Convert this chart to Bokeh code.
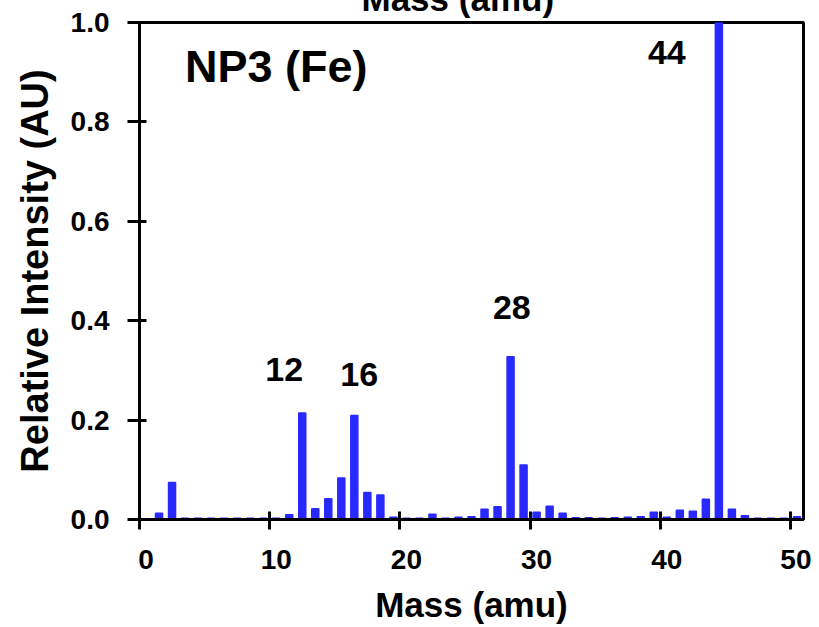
from bokeh.plotting import figure
from bokeh.models import (Range1d, FixedTicker, Label, LinearAxis, PrintfTickFormatter,
                          ColumnDataSource)
from bokeh.embed import file_html
from bokeh.resources import INLINE

# ---- data ----
masses = list(range(1, 51))
intensity = [0.012, 0.074, 0.002, 0.002, 0.002, 0.002, 0.002, 0.002, 0.002, 0.002,
             0.009, 0.214, 0.021, 0.041, 0.083, 0.209, 0.054, 0.049, 0.004, 0.002,
             0.002, 0.010, 0.002, 0.004, 0.005, 0.020, 0.025, 0.327, 0.109, 0.014,
             0.026, 0.012, 0.003, 0.003, 0.002, 0.003, 0.004, 0.005, 0.014, 0.004,
             0.018, 0.016, 0.040, 1.000, 0.020, 0.007, 0.002, 0.002, 0.002, 0.005]
x_tick_values = [0, 10, 20, 30, 40, 50]
y_tick_values = [0.0, 0.2, 0.4, 0.6, 0.8, 1.0]
peak_masses = [12, 16, 28, 44]
sample_name = "NP3 (Fe)"
x_title = "Mass (amu)"
y_title = "Relative Intensity (AU)"

FONT = "Liberation Sans"
BLUE = "#2828ff"
TOP_SHIFT = 38  # the source image is cropped through its top title

p = figure(width=811, height=60 + 497 + 108, output_backend="svg", toolbar_location=None,
           x_range=Range1d(-0.5, 50.5), y_range=Range1d(0, 1.0),
           x_axis_location=None,
           min_border_left=139, min_border_right=8, min_border_top=22 + TOP_SHIFT,
           min_border_bottom=108)
p.styles = {"margin-top": "-%dpx" % TOP_SHIFT}
p.background_fill_color = "white"
p.border_fill_color = "white"
p.grid.visible = False
p.outline_line_color = "black"
p.outline_line_width = 3

p.title.text = x_title
p.title.align = "left"
p.title.offset = 222
p.title.text_font = FONT
p.title.text_font_style = "bold"
p.title.text_font_size = "35px"
p.title.text_color = "black"
p.title.standoff = 9

src = ColumnDataSource(dict(mass=masses, intensity=intensity))
p.vbar(x="mass", top="intensity", bottom=0, width=0.5, source=src,
       fill_color=BLUE, line_color=BLUE, line_width=2, line_join="round")

# x axis tick marks sit on category boundaries ...
xa = LinearAxis(ticker=FixedTicker(ticks=[v - 0.5 for v in x_tick_values]),
                major_label_overrides={v - 0.5: "" for v in x_tick_values},
                major_label_text_font_size="0px", major_label_standoff=0,
                minor_tick_line_color=None, axis_line_width=3, axis_line_color="black",
                major_tick_line_width=3, major_tick_line_color="black",
                major_tick_in=8, major_tick_out=10)
p.add_layout(xa, "below")
# ... while their labels sit on category centres
xl = LinearAxis(ticker=FixedTicker(ticks=x_tick_values),
                axis_line_color=None, major_tick_line_color=None,
                minor_tick_line_color=None, major_tick_in=0, major_tick_out=0,
                major_label_standoff=20, major_label_text_font=FONT,
                major_label_text_font_style="bold", major_label_text_font_size="28px",
                major_label_text_color="black",
                axis_label=x_title, axis_label_text_font=FONT,
                axis_label_text_font_style="bold", axis_label_text_font_size="35px",
                axis_label_text_color="black", axis_label_standoff=13)
p.add_layout(xl, "below")

ya = p.yaxis[0]
ya.ticker = FixedTicker(ticks=y_tick_values)
ya.formatter = PrintfTickFormatter(format="%.1f")
ya.minor_tick_line_color = None
ya.axis_line_width = 3
ya.axis_line_color = "black"
ya.major_tick_line_width = 3
ya.major_tick_line_color = "black"
ya.major_tick_in = 7
ya.major_tick_out = 12
ya.major_label_standoff = 18
ya.major_label_text_font = FONT
ya.major_label_text_font_style = "bold"
ya.major_label_text_font_size = "28px"
ya.major_label_text_color = "black"
ya.axis_label = y_title
ya.axis_label_text_font = FONT
ya.axis_label_text_font_style = "bold"
ya.axis_label_text_font_size = "38px"
ya.axis_label_text_color = "black"
ya.axis_label_standoff = 12

# sample name
p.add_layout(Label(x=10.0, y=0.911, text=sample_name, text_align="center",
                   text_baseline="alphabetic", text_font=FONT, text_font_style="bold",
                   text_font_size="45px", text_color="black"))

# peak labels
peak_dx = {12: -1.38, 16: 0.37, 28: 0.1, 44: -4.0}
peak_y = {12: 0.302, 16: 0.292, 28: 0.426, 44: 0.939}
for m in peak_masses:
    p.add_layout(Label(x=m + peak_dx[m], y=peak_y[m], text=str(m), text_align="center",
                       text_baseline="alphabetic", text_font=FONT,
                       text_font_style="bold", text_font_size="34px",
                       text_color="black"))

open("out.html", "w").write(file_html(p, INLINE))
